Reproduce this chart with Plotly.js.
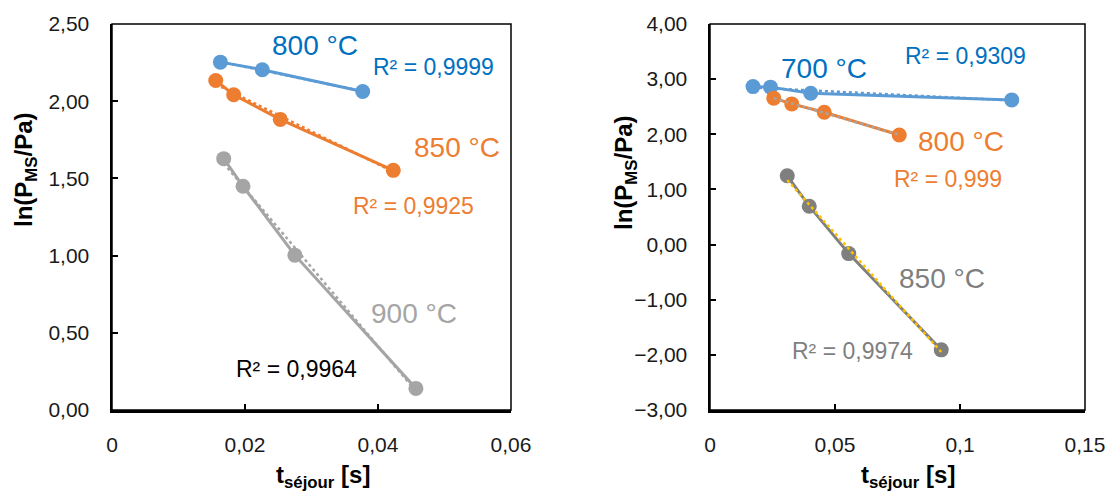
<!DOCTYPE html>
<html>
<head>
<meta charset="utf-8">
<script src="https://cdn.plot.ly/plotly-3.0.1.min.js"></script>
<style>
html,body{margin:0;padding:0;background:#fff;}
#chart{width:1110px;height:493px;}
</style>
</head>
<body>
<div id="chart"></div>
<script>
// ---- Left panel data ----
const left800_t = [0.0163, 0.0226, 0.0377];
const left800_ln = [2.253, 2.204, 2.063];
const left850_t = [0.0156, 0.0183, 0.0253, 0.0423];
const left850_ln = [2.134, 2.042, 1.882, 1.552];
const left900_t = [0.0168, 0.0197, 0.0275, 0.0457];
const left900_ln = [1.628, 1.449, 1.003, 0.140];

// ---- Right panel data ----
const right700_t = [0.0172, 0.0242, 0.0403, 0.1207];
const right700_ln = [2.865, 2.855, 2.745, 2.624];
const right800_t = [0.0255, 0.0327, 0.0457, 0.0757];
const right800_ln = [2.655, 2.551, 2.400, 1.987];
const right850_t = [0.0309, 0.0397, 0.0555, 0.0925];
const right850_ln = [1.247, 0.696, -0.164, -1.909];

const labelsLeft = ["800 °C", "850 °C", "900 °C"];
const r2Left = ["R² = 0,9999", "R² = 0,9925", "R² = 0,9964"];
const labelsRight = ["700 °C", "800 °C", "850 °C"];
const r2Right = ["R² = 0,9309", "R² = 0,999", "R² = 0,9974"];

function fit(x, y) {
  const n = x.length;
  let sx=0, sy=0, sxx=0, sxy=0;
  for (let i=0;i<n;i++){sx+=x[i];sy+=y[i];sxx+=x[i]*x[i];sxy+=x[i]*y[i];}
  const b = (n*sxy - sx*sy)/(n*sxx - sx*sx);
  const a = (sy - b*sx)/n;
  const xmin = Math.min(...x), xmax = Math.max(...x);
  return {x:[xmin,xmax], y:[a+b*xmin, a+b*xmax]};
}

const BLUE='#5B9BD5', BLUE_T='#0070C0', ORANGE='#ED7D31', GRAY_L='#A5A5A5', GRAY_D='#7F7F7F', YELLOW='#FFC000';

function series(x,y,color,xa,ya){
  return {x:x,y:y,xaxis:xa,yaxis:ya,type:'scatter',mode:'lines+markers',
    line:{color:color,width:3},marker:{color:color,size:15},showlegend:false,hoverinfo:'x+y'};
}
function trend(x,y,color,xa,ya){
  const f = fit(x,y);
  return {x:f.x,y:f.y,xaxis:xa,yaxis:ya,type:'scatter',mode:'lines',
    line:{color:color,width:2.5,dash:'dot'},showlegend:false,hoverinfo:'skip'};
}

const data = [
  series(left800_t,left800_ln,BLUE,'x','y'),
  series(left850_t,left850_ln,ORANGE,'x','y'),
  series(left900_t,left900_ln,GRAY_L,'x','y'),
  trend(left800_t,left800_ln,BLUE,'x','y'),
  trend(left850_t,left850_ln,ORANGE,'x','y'),
  trend(left900_t,left900_ln,GRAY_L,'x','y'),
  series(right700_t,right700_ln,BLUE,'x2','y2'),
  series(right800_t,right800_ln,ORANGE,'x2','y2'),
  series(right850_t,right850_ln,GRAY_D,'x2','y2'),
  trend(right700_t,right700_ln,BLUE,'x2','y2'),
  trend(right800_t,right800_ln,GRAY_L,'x2','y2'),
  trend(right850_t,right850_ln,YELLOW,'x2','y2')
];

const FONT = 'Liberation Sans, Arial, sans-serif';
const tickFont = {family:FONT,size:21,color:'#1a1a1a'};

function ax(domain, range, dtick, fmt, anchor){
  const a = {domain:domain, range:range, dtick:dtick, tick0:0, anchor:anchor,
    showgrid:false, zeroline:false, showline:true, linecolor:'#000', linewidth:2.5,
    ticks:'inside', ticklen:6, tickwidth:2, tickcolor:'#000',
    tickfont:tickFont, fixedrange:true};
  if (fmt) a.tickformat = fmt;
  return a;
}

const big = {family:FONT,size:28};
const small = {family:FONT,size:23};
function ann(text,x,y,xref,yref,color,font){
  return {text:text,x:x,y:y,xref:xref,yref:yref,showarrow:false,
    font:Object.assign({},font,{color:color}),xanchor:'center',yanchor:'middle'};
}

const titleFont = {family:FONT,size:24,color:'#000'};

const annotations = [
  ann(labelsLeft[0],0.0305,2.364,'x','y',BLUE_T,big),
  ann(r2Left[0],0.0484,2.222,'x','y',BLUE_T,small),
  ann(labelsLeft[1],0.0519,1.703,'x','y',ORANGE,big),
  ann(r2Left[1],0.0454,1.321,'x','y',ORANGE,small),
  ann(labelsLeft[2],0.0454,0.622,'x','y',GRAY_L,big),
  ann(r2Left[2],0.0278,0.266,'x','y','#000',small),
  ann(labelsRight[0],0.0456,3.202,'x2','y2',BLUE_T,big),
  ann(r2Right[0],0.102,3.42,'x2','y2',BLUE_T,small),
  ann(labelsRight[1],0.1004,1.878,'x2','y2',ORANGE,big),
  ann(r2Right[1],0.095,1.189,'x2','y2',ORANGE,small),
  ann(labelsRight[2],0.0928,-0.624,'x2','y2',GRAY_D,big),
  ann(r2Right[2],0.0568,-1.93,'x2','y2',GRAY_D,small),
  // axis titles
  {text:'<b>ln(P<sub>MS</sub>/Pa)</b>',x:25/1110,y:(410-170)/386,xref:'paper',yref:'paper',
   textangle:-90,showarrow:false,font:titleFont,xanchor:'center',yanchor:'middle'},
  {text:'<b>ln(P<sub>MS</sub>/Pa)</b>',x:625/1110,y:(410-173)/386,xref:'paper',yref:'paper',
   textangle:-90,showarrow:false,font:titleFont,xanchor:'center',yanchor:'middle'},
  {text:'<b>t<sub>séjour</sub> [s]</b>',x:323/1110,y:(410-476)/386,xref:'paper',yref:'paper',
   showarrow:false,font:titleFont,xanchor:'center',yanchor:'middle'},
  {text:'<b>t<sub>séjour</sub> [s]</b>',x:908/1110,y:(410-476)/386,xref:'paper',yref:'paper',
   showarrow:false,font:titleFont,xanchor:'center',yanchor:'middle'}
];

const xa = ax([112/1110, 511/1110],[0,0.06],0.02,null,'y');
const ya = ax([0,1],[0,2.5],0.5,'.2f','x');
const xa2 = ax([710/1110, 1085/1110],[0,0.15],0.05,null,'y2');
const ya2 = ax([0,1],[-3,4],1,'.2f','x2');
[xa,xa2].forEach(a=>{a.ticklabelstandoff=14;});
[ya,ya2].forEach(a=>{a.ticklabelstandoff=16;});

const layout = {
  width:1110,height:493,
  margin:{l:0,r:0,t:24,b:83},
  paper_bgcolor:'#fff',plot_bgcolor:'#fff',
  separators:', ',
  font:{family:FONT},
  showlegend:false,
  xaxis:xa,yaxis:ya,xaxis2:xa2,yaxis2:ya2,
  annotations:annotations,
  shapes:[
    {type:'rect',xref:'x domain',yref:'y domain',x0:0,x1:1,y0:0,y1:1,line:{color:'#000',width:1.5},layer:'below'},
    {type:'rect',xref:'x2 domain',yref:'y2 domain',x0:0,x1:1,y0:0,y1:1,line:{color:'#000',width:1.5},layer:'below'}
  ]
};

Plotly.newPlot('chart',data,layout,{staticPlot:true,displayModeBar:false});
</script>
</body>
</html>
